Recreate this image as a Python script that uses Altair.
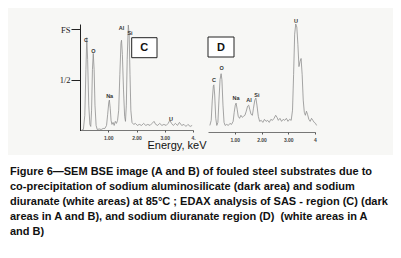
import altair as alt
import pandas as pd

# ---- EDAX spectrum C (SAS region) ----
c_energy = [0.06, 0.12, 0.17, 0.21, 0.24, 0.27, 0.31, 0.35, 0.38, 0.41, 0.44, 0.47, 0.50, 0.53,
            0.57, 0.61, 0.68, 0.75, 0.82, 0.88, 0.94, 0.98, 1.02, 1.04, 1.07, 1.10, 1.13, 1.17,
            1.21, 1.25, 1.29, 1.33, 1.37, 1.41, 1.45, 1.47, 1.50, 1.54, 1.58, 1.61, 1.64, 1.67,
            1.71, 1.74, 1.77, 1.80, 1.84, 1.90, 1.96, 2.03, 2.10, 2.18, 2.25, 2.33, 2.40, 2.48,
            2.55, 2.62, 2.68, 2.75, 2.82, 2.90, 2.97, 3.05, 3.12, 3.18, 3.24, 3.30, 3.38, 3.45,
            3.52, 3.60, 3.68, 3.75, 3.82, 3.90, 3.97]
c_counts = [0.005, 0.01, 0.15, 0.60, 0.915, 0.70, 0.25, 0.06, 0.04, 0.20, 0.60, 0.76, 0.60, 0.25,
            0.05, 0.01, 0.015, 0.01, 0.02, 0.02, 0.05, 0.16, 0.28, 0.30, 0.22, 0.10, 0.06, 0.08,
            0.05, 0.09, 0.07, 0.10, 0.20, 0.55, 0.86, 0.89, 0.75, 0.40, 0.14, 0.09, 0.25, 0.70,
            1.04, 0.95, 0.55, 0.20, 0.08, 0.06, 0.07, 0.05, 0.06, 0.05, 0.07, 0.05, 0.06, 0.05,
            0.07, 0.09, 0.06, 0.05, 0.07, 0.05, 0.06, 0.05, 0.07, 0.10, 0.07, 0.05, 0.07, 0.05,
            0.08, 0.05, 0.06, 0.04, 0.06, 0.04, 0.05]

# ---- EDAX spectrum D (sodium diuranate region) ----
d_energy = [0.07, 0.12, 0.16, 0.20, 0.22, 0.25, 0.29, 0.33, 0.37, 0.41, 0.45, 0.49, 0.52, 0.56,
            0.60, 0.64, 0.70, 0.76, 0.82, 0.88, 0.94, 0.98, 1.02, 1.05, 1.09, 1.13, 1.18, 1.23,
            1.28, 1.33, 1.38, 1.43, 1.48, 1.52, 1.56, 1.61, 1.66, 1.70, 1.75, 1.79, 1.83, 1.88,
            1.93, 1.99, 2.05, 2.11, 2.17, 2.23, 2.29, 2.35, 2.41, 2.47, 2.53, 2.58, 2.63, 2.69,
            2.75, 2.81, 2.87, 2.93, 2.99, 3.05, 3.11, 3.16, 3.20, 3.24, 3.28, 3.32, 3.36, 3.40,
            3.44, 3.48, 3.52, 3.56, 3.60, 3.64, 3.68, 3.72, 3.77, 3.82, 3.87, 3.92, 3.97, 4.02,
            4.06]
d_counts = [0.05, 0.10, 0.30, 0.44, 0.45, 0.35, 0.12, 0.05, 0.08, 0.30, 0.50, 0.56, 0.50, 0.25,
            0.08, 0.05, 0.06, 0.05, 0.07, 0.06, 0.09, 0.18, 0.25, 0.27, 0.21, 0.14, 0.12, 0.15,
            0.13, 0.14, 0.15, 0.19, 0.24, 0.25, 0.21, 0.16, 0.15, 0.22, 0.30, 0.32, 0.25, 0.14,
            0.09, 0.10, 0.08, 0.11, 0.09, 0.10, 0.08, 0.11, 0.10, 0.12, 0.15, 0.13, 0.10, 0.12,
            0.09, 0.11, 0.10, 0.12, 0.09, 0.11, 0.10, 0.20, 0.55, 0.95, 1.05, 1.02, 0.85, 0.63,
            0.68, 0.71, 0.55, 0.30, 0.18, 0.15, 0.19, 0.16, 0.11, 0.09, 0.12, 0.10, 0.08, 0.07,
            0.05]

# ---- peak labels ----
c_peaks = ["C", "O", "Na", "Al", "Si", "U"]
c_peak_energy = [0.21, 0.47, 1.05, 1.47, 1.77, 3.22]
c_peak_height = [0.89, 0.78, 0.34, 1.01, 0.96, 0.11]
d_peaks = ["C", "O", "Na", "Al", "Si", "U"]
d_peak_energy = [0.22, 0.51, 1.05, 1.53, 1.83, 3.29]
d_peak_height = [0.50, 0.62, 0.32, 0.30, 0.35, 1.08]

# ---- axes ----
x_ticks = [1, 2, 3, 4]
c_tick_labels = ["1.00", "2.00", "3.00", "4."]
d_tick_labels = ["1.00", "2.00", "3.00", "4"]
y_ticks = [0.5, 1.0]
y_tick_labels = ["1/2", "FS"]

panel_letters = ["C", "D"]
x_title = "Energy, keV"
caption_lines = [
    "Figure 6\u2014SEM BSE image (A and B) of fouled steel substrates due to",
    "co-precipitation of sodium aluminosilicate (dark area) and sodium",
    "diuranate (white areas) at 85\u00b0C ; EDAX analysis of SAS - region (C) (dark",
    "areas in A and B), and sodium diuranate region (D)\u00a0 (white areas in A",
    "and B)",
]

W, H = 385, 147
FONT = "Liberation Sans"


def label_expr(values, labels):
    expr = "''"
    for v, l in zip(values, labels):
        expr = f"datum.value == {v} ? '{l}' : ({expr})"
    return expr


c_df = pd.DataFrame({"E": c_energy, "v": c_counts})
d_df = pd.DataFrame({"E": d_energy, "v": d_counts})
c_lab = pd.DataFrame({"E": c_peak_energy, "v": c_peak_height, "t": c_peaks})
d_lab = pd.DataFrame({"E": d_peak_energy, "v": d_peak_height, "t": d_peaks})

c_xscale = alt.Scale(domain=[0, 4], range=[72, 185], nice=False, zero=False)
d_xscale = alt.Scale(domain=[0, 4], range=[200, 307], nice=False, zero=False)
yscale = alt.Scale(domain=[0, 1.05], range=[122.5, 16], nice=False)

x_axis_common = dict(orient="bottom", title=None, grid=False, tickSize=2,
                     labelFontSize=5, labelFont=FONT, labelFontWeight="bold",
                     labelColor="#444", domainColor="#555", tickColor="#555",
                     labelPadding=3, domainWidth=0.8, labelFlush=False)

c_line = alt.Chart(c_df).mark_line(color="#8e8e8e", strokeWidth=0.8).encode(
    x=alt.X("E:Q", scale=c_xscale,
            axis=alt.Axis(values=x_ticks, labelExpr=label_expr(x_ticks, c_tick_labels),
                          offset=-25, **x_axis_common)),
    y=alt.Y("v:Q", scale=yscale,
            axis=alt.Axis(values=y_ticks, labelExpr=label_expr(y_ticks, y_tick_labels),
                          orient="left", offset=-72, title=None, grid=False,
                          labelFont="Liberation Serif", labelFontSize=8.5, labelColor="#222",
                          tickSize=9, tickColor="#222", domainColor="#222",
                          labelPadding=1, domainWidth=1)),
)

d_line = alt.Chart(d_df).mark_line(color="#8e8e8e", strokeWidth=0.8).encode(
    x=alt.X("E:Q", scale=d_xscale,
            axis=alt.Axis(values=x_ticks, labelExpr=label_expr(x_ticks, d_tick_labels),
                          offset=-23, **x_axis_common)),
    y=alt.Y("v:Q", scale=yscale, axis=None),
)

lab_style = dict(fontSize=5.5, font=FONT, fontWeight="bold", color="#333",
                 baseline="middle", align="center")
c_text = alt.Chart(c_lab).mark_text(**lab_style).encode(
    x=alt.X("E:Q", scale=c_xscale, axis=None),
    y=alt.Y("v:Q", scale=yscale, axis=None),
    text="t:N",
)
d_text = alt.Chart(d_lab).mark_text(**lab_style).encode(
    x=alt.X("E:Q", scale=d_xscale, axis=None),
    y=alt.Y("v:Q", scale=yscale, axis=None),
    text="t:N",
)

box_c = alt.Chart(pd.DataFrame({"a": [0]})).mark_rect(
    fill="white", stroke="#222", strokeWidth=1).encode(
    x=alt.value(123.7), x2=alt.value(149), y=alt.value(29.7), y2=alt.value(49.7))
box_d = alt.Chart(pd.DataFrame({"a": [0]})).mark_rect(
    fill="white", stroke="#222", strokeWidth=1).encode(
    x=alt.value(200), x2=alt.value(226), y=alt.value(29), y2=alt.value(49))
letter_c = alt.Chart(pd.DataFrame({"a": [0]})).mark_text(
    text=panel_letters[0], fontSize=11, fontWeight="bold", font=FONT, color="#111",
    align="center", baseline="middle").encode(x=alt.value(136.3), y=alt.value(40))
letter_d = alt.Chart(pd.DataFrame({"a": [0]})).mark_text(
    text=panel_letters[1], fontSize=11, fontWeight="bold", font=FONT, color="#111",
    align="center", baseline="middle").encode(x=alt.value(213), y=alt.value(39.5))

xtitle = alt.Chart(pd.DataFrame({"a": [0]})).mark_text(
    text=x_title, fontSize=11, font=FONT, color="#111",
    align="center", baseline="middle").encode(x=alt.value(169), y=alt.value(138))

caption = alt.Chart(pd.DataFrame({"a": [0]})).mark_text(
    text=caption_lines, fontSize=11, fontWeight="bold", font=FONT, color="#111",
    align="left", baseline="alphabetic", lineHeight=15).encode(
    x=alt.value(2), y=alt.value(167))

chart = alt.layer(
    c_line, d_line, c_text, d_text, box_c, box_d, letter_c, letter_d, xtitle, caption
).resolve_scale(x="independent", y="independent").properties(
    width=W, height=H, padding=0, background="white"
).configure_view(fill="#f7f7f5", stroke=None)

chart.save("out.html", embed_options={"renderer": "svg", "actions": False})
